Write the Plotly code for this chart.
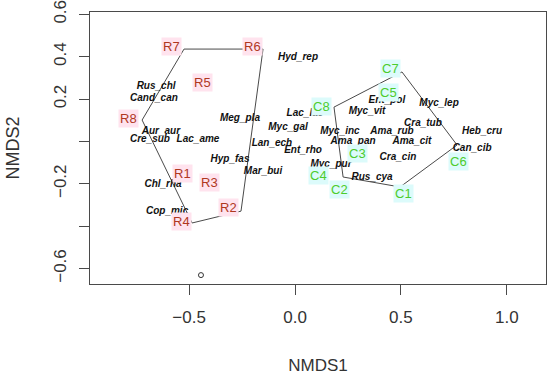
import plotly.graph_objects as go

# --- data ---
r_labels = ["R7", "R6", "R5", "R8", "R1", "R3", "R2", "R4"]
r_x = [-0.581, -0.203, -0.439, -0.784, -0.529, -0.406, -0.316, -0.538]
r_y = [0.446, 0.450, 0.276, 0.110, -0.149, -0.196, -0.314, -0.380]

r_hull_x = [-0.524, -0.151, -0.255, -0.486, -0.722, -0.524]
r_hull_y = [0.436, 0.436, -0.329, -0.385, 0.101, 0.436]

c_labels = ["C7", "C5", "C8", "C3", "C4", "C2", "C1", "C6"]
c_x = [0.449, 0.439, 0.127, 0.293, 0.109, 0.212, 0.510, 0.770]
c_y = [0.342, 0.233, 0.167, -0.059, -0.159, -0.225, -0.244, -0.093]

c_hull_x = [0.505, 0.765, 0.496, 0.227, 0.184, 0.505]
c_hull_y = [0.328, -0.017, -0.215, -0.168, 0.162, 0.328]

species = ["Hyd_rep", "Rus_chl", "Cand_can", "Meg_pla", "Aur_aur", "Cre_sub",
           "Lac_ame", "Lan_ech", "Lac_lac", "Myc_gal", "Ent_rho", "Hyp_fas",
           "Mar_bui", "Myc_pur", "Myc_inc", "Ama_pan", "Myc_vit", "Ent_pol",
           "Myc_lep", "Cra_tub", "Ama_rub", "Ama_cit", "Heb_cru", "Can_cib",
           "Cra_cin", "Rus_cya", "Chl_rha", "Cop_mic"]
sp_x = [0.014, -0.656, -0.666, -0.260, -0.633, -0.685,
        -0.458, -0.109, 0.047, -0.033, 0.038, -0.307,
        -0.151, 0.170, 0.212, 0.274, 0.340, 0.434,
        0.680, 0.604, 0.458, 0.552, 0.883, 0.836,
        0.486, 0.364, -0.623, -0.604]
sp_y = [0.394, 0.257, 0.205, 0.110, 0.049, 0.007,
        0.011, -0.008, 0.134, 0.068, -0.045, -0.083,
        -0.144, -0.111, 0.049, 0.002, 0.139, 0.195,
        0.181, 0.087, 0.049, 0.002, 0.049, -0.031,
        -0.078, -0.168, -0.201, -0.329]

outlier_x = [-0.444]
outlier_y = [-0.631]

x_ticks = [-0.5, 0.0, 0.5, 1.0]
x_ticktext = ["\u22120.5", "0.0", "0.5", "1.0"]
y_ticks = [-0.6, -0.4, -0.2, 0.0, 0.2, 0.4, 0.6]
y_ticktext = ["\u22120.6", "", "\u22120.2", "", "0.2", "0.4", "0.6"]

FONT = "Liberation Sans, Arial, sans-serif"
LINE = "#4a4a4a"

fig = go.Figure()

fig.add_trace(go.Scatter(x=r_hull_x, y=r_hull_y, mode="lines",
                         line=dict(color=LINE, width=1), hoverinfo="skip"))
fig.add_trace(go.Scatter(x=c_hull_x, y=c_hull_y, mode="lines",
                         line=dict(color=LINE, width=1), hoverinfo="skip"))

fig.add_trace(go.Scatter(x=sp_x, y=sp_y, mode="text", text=species,
                         textposition="middle center",
                         textfont=dict(family=FONT, size=10, color="#111111",
                                       style="italic", weight="bold")))

fig.add_trace(go.Scatter(x=outlier_x, y=outlier_y, mode="markers",
                         marker=dict(symbol="circle-open", size=5,
                                     color="#333333", line=dict(width=1))))

for lab, x, y in zip(r_labels, r_x, r_y):
    fig.add_annotation(x=x, y=y, xref="x", yref="y", text=lab, showarrow=False,
                       font=dict(family=FONT, size=13, color="#b0381e"),
                       bgcolor="#ffe3ee", borderpad=1)
for lab, x, y in zip(c_labels, c_x, c_y):
    fig.add_annotation(x=x, y=y, xref="x", yref="y", text=lab, showarrow=False,
                       font=dict(family=FONT, size=13, color="#4ccc2c"),
                       bgcolor="#dcfbfb", borderpad=1)

fig.update_layout(
    width=550, height=378,
    margin=dict(l=90, r=4, t=12, b=94),
    paper_bgcolor="white", plot_bgcolor="white",
    showlegend=False,
    font=dict(family=FONT, color="#333333"),
    xaxis=dict(range=[-0.968, 1.185], showgrid=False, zeroline=False,
               automargin=False, ticklabeloverflow="allow",
               tickvals=x_ticks, ticktext=x_ticktext,
               ticks="outside", ticklen=10, tickcolor=LINE,
               tickfont=dict(size=17, color="#333333"),
               showline=True, linecolor=LINE, linewidth=1, mirror=True,
               ticklabelstandoff=8,
               title=dict(text="NMDS1", font=dict(size=17, color="#333333"),
                          standoff=32)),
    yaxis=dict(range=[-0.673, 0.611], showgrid=False, zeroline=False,
               automargin=False, ticklabeloverflow="allow",
               tickvals=y_ticks, ticktext=y_ticktext, tickangle=-90,
               ticks="outside", ticklen=10, tickcolor=LINE,
               tickfont=dict(size=17, color="#333333"),
               showline=True, linecolor=LINE, linewidth=1, mirror=True,
               ticklabelstandoff=6,
               title=dict(text="NMDS2", font=dict(size=18, color="#333333"),
                          standoff=26)),
)

fig.write_html("out.html",
               config={"displayModeBar": False},
               post_script="document.body.style.margin='0';document.body.style.overflow='hidden';")
